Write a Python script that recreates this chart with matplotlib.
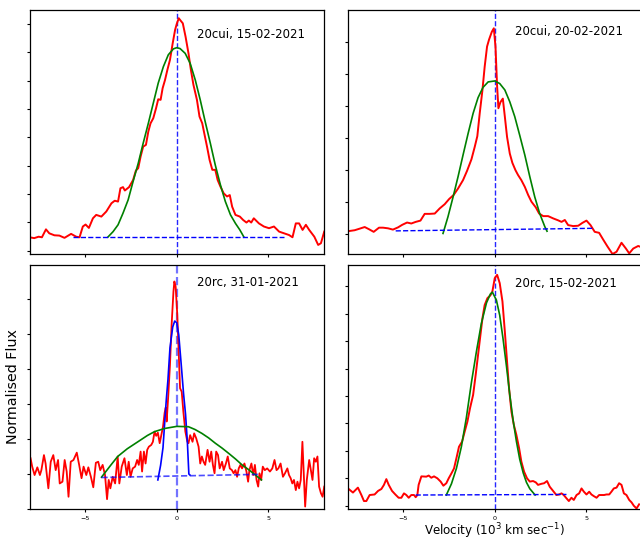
import numpy as np
import matplotlib.pyplot as plt

# ---- panel 1 : 20cui, 15-02-2021 ----
p1_vel = [-8.03, -7.77, -7.53, -7.35, -7.13, -6.95, -6.67, -6.40, -6.12, -5.76, -5.48, -5.30,
          -5.12, -4.97, -4.79, -4.57, -4.39, -4.11, -3.84, -3.56, -3.38, -3.20, -3.07, -2.93,
          -2.83, -2.60, -2.38, -2.23, -2.10, -1.97, -1.83, -1.68, -1.55, -1.43, -1.28, -1.13,
          -1.01, -0.88, -0.77, -0.64, -0.51, -0.37, -0.22, -0.09, 0.0, 0.11, 0.18, 0.33, 0.48,
          0.64, 0.77, 0.91, 1.10, 1.24, 1.39, 1.50, 1.65, 1.79, 1.94, 2.10, 2.23, 2.38, 2.56,
          2.74, 2.89, 3.02, 3.20, 3.44, 3.62, 3.80, 3.93, 4.06, 4.20, 4.48, 4.75, 5.03, 5.30,
          5.58, 5.85, 6.12, 6.31, 6.49, 6.67, 6.86, 7.04, 7.22, 7.50, 7.71, 7.86, 8.04]
p1_flux = [0.47, 0.44, 0.49, 0.47, 0.75, 0.61, 0.54, 0.53, 0.45, 0.59, 0.49, 0.47, 0.85, 0.92,
           0.80, 1.14, 1.26, 1.20, 1.38, 1.67, 1.76, 1.73, 2.20, 2.24, 2.12, 2.24, 2.49, 2.82,
           2.91, 3.32, 3.67, 3.73, 4.20, 4.49, 4.67, 5.02, 5.34, 5.32, 5.73, 6.02, 6.38, 6.73,
           7.32, 7.79, 8.00, 8.20, 8.14, 8.02, 7.55, 6.96, 6.38, 5.85, 5.32, 4.73, 4.49, 4.14,
           3.67, 3.20, 2.85, 2.85, 2.49, 2.26, 2.02, 1.91, 1.96, 1.55, 1.26, 1.20, 1.08, 0.99,
           1.06, 0.99, 1.14, 0.96, 0.85, 0.79, 0.85, 0.67, 0.61, 0.55, 0.47, 0.96, 0.96, 0.73,
           0.91, 0.73, 0.49, 0.20, 0.26, 0.67]
p1_fit_vel = [-3.75, -3.47, -3.20, -2.93, -2.65, -2.38, -2.10, -1.83, -1.55, -1.28, -1.01,
              -0.73, -0.46, -0.18, 0.0, 0.18, 0.46, 0.73, 1.01, 1.28, 1.55, 1.83, 2.10, 2.38,
              2.65, 2.93, 3.20, 3.44, 3.66]
p1_fit_flux = [0.48, 0.67, 0.91, 1.32, 1.79, 2.44, 3.08, 3.79, 4.49, 5.20, 5.91, 6.49, 6.91,
               7.12, 7.16, 7.13, 6.96, 6.61, 6.02, 5.32, 4.55, 3.79, 3.02, 2.32, 1.73, 1.26,
               0.96, 0.73, 0.48]
p1_base_vel = [-5.67, 5.85]
p1_base_flux = [0.48, 0.48]

# ---- panel 2 : 20cui, 20-02-2021 ----
p2_vel = [-8.00, -7.64, -7.36, -7.09, -6.85, -6.60, -6.31, -6.09, -5.82, -5.55, -5.27, -5.04,
          -4.78, -4.55, -4.31, -4.05, -3.82, -3.55, -3.27, -3.00, -2.73, -2.49, -2.24, -2.00,
          -1.73, -1.51, -1.27, -1.09, -0.95, -0.82, -0.67, -0.55, -0.42, -0.31, -0.16, -0.05,
          0.04, 0.13, 0.20, 0.31, 0.44, 0.55, 0.67, 0.82, 0.96, 1.13, 1.27, 1.45, 1.64, 1.82,
          2.00, 2.24, 2.42, 2.64, 2.91, 3.18, 3.45, 3.64, 3.82, 4.00, 4.27, 4.55, 4.78, 5.00,
          5.22, 5.45, 5.69, 5.91, 6.15, 6.42, 6.64, 6.91, 7.15, 7.33, 7.55, 7.82, 7.91]
p2_flux = [0.10, 0.13, 0.18, 0.23, 0.16, 0.08, 0.21, 0.21, 0.19, 0.15, 0.22, 0.30, 0.37, 0.34,
           0.39, 0.43, 0.64, 0.64, 0.65, 0.81, 0.94, 1.10, 1.23, 1.43, 1.69, 1.98, 2.34, 2.73,
           3.06, 3.77, 4.50, 5.22, 5.85, 6.07, 6.31, 6.42, 5.85, 4.60, 3.93, 4.12, 4.23, 3.67,
           3.04, 2.52, 2.23, 2.00, 1.85, 1.69, 1.48, 1.23, 1.02, 0.84, 0.65, 0.57, 0.57, 0.50,
           0.44, 0.39, 0.45, 0.29, 0.26, 0.27, 0.36, 0.43, 0.29, 0.08, 0.05, -0.16, -0.38,
           -0.61, -0.54, -0.26, -0.44, -0.59, -0.44, -0.36, -0.38]
p2_fit_vel = [-2.82, -2.55, -2.27, -2.00, -1.73, -1.45, -1.18, -0.91, -0.64, -0.36, 0.0, 0.27,
              0.55, 0.82, 1.09, 1.36, 1.64, 1.91, 2.18, 2.45, 2.73, 2.85]
p2_fit_flux = [0.03, 0.55, 1.17, 1.80, 2.47, 3.15, 3.77, 4.26, 4.58, 4.75, 4.78, 4.70, 4.50,
               4.13, 3.67, 3.09, 2.47, 1.80, 1.17, 0.65, 0.24, 0.10]
p2_base_vel = [-5.40, 5.36]
p2_base_flux = [0.11, 0.19]

# ---- panel 3 : 20rc, 31-01-2021 ----
p3_vel = [-7.97, -7.88, -7.75, -7.60, -7.46, -7.38, -7.24, -7.15, -7.00, -6.87, -6.73, -6.60,
          -6.47, -6.38, -6.23, -6.11, -6.00, -5.90, -5.78, -5.63, -5.45, -5.32, -5.19, -5.08,
          -4.93, -4.82, -4.68, -4.55, -4.41, -4.28, -4.17, -4.04, -3.91, -3.80, -3.71, -3.62,
          -3.49, -3.36, -3.22, -3.13, -3.00, -2.85, -2.72, -2.62, -2.52, -2.40, -2.27, -2.16,
          -2.07, -1.97, -1.89, -1.79, -1.70, -1.61, -1.52, -1.39, -1.30, -1.21, -1.12, -1.03,
          -0.93, -0.84, -0.75, -0.66, -0.60, -0.55, -0.46, -0.37, -0.28, -0.18, -0.13, -0.06,
          0.03, 0.11, 0.18, 0.27, 0.36, 0.47, 0.58, 0.64, 0.73, 0.86, 0.95, 1.06, 1.19, 1.28,
          1.37, 1.46, 1.55, 1.68, 1.79, 1.88, 1.97, 2.06, 2.15, 2.25, 2.34, 2.47, 2.56, 2.68,
          2.78, 2.89, 3.01, 3.10, 3.20, 3.29, 3.38, 3.47, 3.56, 3.69, 3.80, 3.89, 3.96, 4.07,
          4.17, 4.26, 4.35, 4.44, 4.51, 4.60, 4.69, 4.80, 4.93, 5.08, 5.21, 5.33, 5.44, 5.54,
          5.66, 5.79, 5.90, 6.03, 6.12, 6.21, 6.30, 6.39, 6.49, 6.58, 6.67, 6.76, 6.85, 6.94,
          7.00, 7.09, 7.22, 7.31, 7.40, 7.49, 7.58, 7.67, 7.76, 7.86, 7.95, 8.04]
p3_flux = [1.45, 1.21, 0.97, 1.19, 0.97, 1.11, 1.54, 1.30, 0.59, 1.35, 1.54, 1.11, 1.40, 0.73,
           0.78, 1.40, 1.07, 0.35, 1.35, 1.40, 1.61, 1.26, 0.88, 1.21, 0.97, 1.19, 0.92, 0.62,
           1.32, 1.35, 1.11, 1.26, 0.97, 0.28, 0.83, 0.59, 0.92, 0.73, 1.50, 0.73, 1.21, 1.45,
           0.97, 1.35, 0.92, 1.16, 1.21, 1.40, 1.26, 1.64, 1.07, 1.64, 1.30, 1.69, 1.78, 1.83,
           1.92, 2.21, 2.09, 2.18, 1.88, 2.11, 2.35, 2.75, 2.90, 2.50, 3.26, 4.11, 5.26, 6.21,
           6.50, 6.35, 5.54, 4.40, 3.45, 3.35, 2.78, 2.21, 1.92, 1.88, 2.11, 1.92, 2.16, 2.02,
           1.78, 1.30, 1.50, 1.35, 1.26, 1.69, 1.35, 1.64, 1.26, 1.02, 1.64, 1.54, 1.16, 1.35,
           1.11, 1.30, 1.50, 1.16, 1.11, 1.02, 1.11, 0.92, 1.16, 1.26, 1.16, 1.30, 1.07, 0.78,
           1.11, 1.30, 0.97, 1.26, 0.83, 0.64, 1.02, 0.83, 1.21, 1.11, 1.16, 1.07, 1.16, 1.40,
           1.11, 1.16, 1.30, 0.92, 1.02, 1.16, 0.97, 0.88, 0.73, 0.83, 0.54, 0.78, 0.59, 0.83,
           1.92, 0.83, 0.07, 0.83, 1.40, 1.11, 0.83, 1.45, 1.35, 1.50, 0.64, 0.45, 0.35, 0.64]
p3_narrow_vel = [-1.03, -0.88, -0.75, -0.66, -0.57, -0.48, -0.37, -0.22, -0.11, 0.0, 0.11,
                 0.24, 0.37, 0.48, 0.58, 0.66, 0.72]
p3_narrow_flux = [0.83, 1.25, 1.75, 2.45, 3.12, 3.69, 4.60, 5.20, 5.37, 5.32, 4.97, 4.15,
                  3.30, 2.70, 1.90, 1.00, 0.97]
p3_broad_vel = [-4.10, -3.60, -3.22, -2.70, -2.12, -1.60, -1.21, -0.66, 0.0, 0.64, 1.00, 1.37,
                1.74, 2.10, 2.47, 2.83, 3.20, 3.56, 3.93, 4.29, 4.62]
p3_broad_flux = [0.91, 1.25, 1.50, 1.72, 1.92, 2.10, 2.21, 2.30, 2.36, 2.35, 2.27, 2.16, 2.03,
                 1.88, 1.74, 1.59, 1.43, 1.26, 1.12, 0.97, 0.83]
p3_base_vel = [-4.10, 4.50]
p3_base_flux = [0.90, 0.99]

# ---- panel 4 : 20rc, 15-02-2021 ----
p4_vel = [-8.00, -7.73, -7.46, -7.27, -7.13, -7.00, -6.82, -6.55, -6.36, -6.18, -6.04, -5.91,
          -5.78, -5.60, -5.42, -5.24, -5.09, -4.95, -4.82, -4.69, -4.55, -4.40, -4.31, -4.22,
          -4.15, -4.00, -3.73, -3.60, -3.46, -3.31, -3.13, -2.95, -2.80, -2.64, -2.51, -2.36,
          -2.22, -2.07, -1.95, -1.78, -1.64, -1.49, -1.35, -1.18, -1.04, -0.91, -0.78, -0.67,
          -0.55, -0.40, -0.24, -0.13, 0.0, 0.13, 0.27, 0.42, 0.55, 0.67, 0.78, 0.91, 1.04,
          1.18, 1.33, 1.45, 1.60, 1.76, 1.91, 2.09, 2.24, 2.36, 2.55, 2.69, 2.85, 3.00, 3.18,
          3.36, 3.51, 3.64, 3.76, 3.91, 4.04, 4.18, 4.31, 4.46, 4.60, 4.73, 4.86, 5.00, 5.15,
          5.27, 5.40, 5.55, 5.69, 5.82, 5.96, 6.09, 6.24, 6.36, 6.49, 6.64, 6.78, 6.91, 7.04,
          7.18, 7.33, 7.46, 7.58, 7.73, 7.87]
p4_flux = [0.63, 0.48, 0.66, 0.39, 0.17, 0.17, 0.39, 0.41, 0.54, 0.61, 0.76, 0.97, 0.76, 0.54,
           0.41, 0.29, 0.29, 0.45, 0.39, 0.29, 0.39, 0.39, 0.31, 0.39, 0.76, 1.07, 1.06, 1.10,
           1.02, 1.07, 1.00, 0.88, 0.73, 0.82, 1.00, 1.18, 1.36, 1.79, 2.15, 2.34, 2.70, 3.07,
           3.55, 4.04, 4.77, 5.50, 6.23, 6.84, 7.32, 7.57, 7.67, 7.81, 8.30, 8.42, 8.12, 7.45,
           6.35, 5.26, 4.28, 3.43, 2.95, 2.58, 2.09, 1.61, 1.24, 1.00, 0.88, 0.90, 0.85, 0.76,
           0.80, 0.82, 0.90, 0.69, 0.54, 0.39, 0.41, 0.45, 0.39, 0.27, 0.17, 0.29, 0.21, 0.39,
           0.45, 0.63, 0.51, 0.41, 0.51, 0.41, 0.35, 0.29, 0.39, 0.39, 0.39, 0.41, 0.41, 0.51,
           0.63, 0.66, 0.82, 0.76, 0.45, 0.39, 0.21, 0.12, 0.00, -0.10, 0.05]
p4_fit_vel = [-2.64, -2.36, -2.09, -1.82, -1.55, -1.27, -1.00, -0.73, -0.45, -0.24, -0.13,
              0.09, 0.27, 0.45, 0.64, 0.82, 1.00, 1.18, 1.36, 1.55, 1.73, 1.91, 2.20]
p4_fit_flux = [0.39, 0.80, 1.36, 2.15, 3.20, 4.50, 5.62, 6.65, 7.40, 7.72, 7.79, 7.50, 6.95,
               6.10, 5.08, 4.04, 3.12, 2.35, 1.70, 1.20, 0.85, 0.62, 0.39]
p4_base_vel = [-4.31, 3.91]
p4_base_flux = [0.39, 0.41]

labels = ["20cui, 15-02-2021", "20cui, 20-02-2021", "20rc, 31-01-2021", "20rc, 15-02-2021"]

W, H = 640, 541
fig = plt.figure(figsize=(W / 100, H / 100), dpi=100)

def make_ax(left, top, ylim, nticks, vline_alpha=0.85, vline_lw=1):
    ax = fig.add_axes([left / W, (H - top - 244) / H, 293.5 / W, 244 / H])
    ax.set_xlim(-8, 8)
    ax.set_ylim(*ylim)
    ax.set_xticks([-5, 0, 5])
    ax.set_yticks(range(nticks))
    ax.set_yticklabels([])
    ax.tick_params(length=2.2, width=0.8, labelsize=4.6, pad=2.5)
    for s in ax.spines.values():
        s.set_linewidth(0.9)
    ax.axvline(0, color="blue", ls="--", lw=vline_lw, alpha=vline_alpha)
    return ax

ax1 = make_ax(30, 10, (-0.12, 8.49), 9)
ax2 = make_ax(348, 10, (-0.61, 6.99), 7)
ax3 = make_ax(30, 265, (0, 6.97), 7, vline_alpha=0.55, vline_lw=1.6)
ax4 = make_ax(348, 265, (-0.12, 8.78), 9)

ax1.plot(p1_vel, p1_flux, color="red", lw=1.4)
ax1.plot(p1_fit_vel, p1_fit_flux, color="green", lw=1.2)
ax1.plot(p1_base_vel, p1_base_flux, color="blue", ls="--", lw=1)

ax2.plot(p2_vel, p2_flux, color="red", lw=1.4)
ax2.plot(p2_fit_vel, p2_fit_flux, color="green", lw=1.2)
ax2.plot(p2_base_vel, p2_base_flux, color="blue", ls="--", lw=1)

ax3.plot(p3_vel, p3_flux, color="red", lw=1.3)
ax3.plot(p3_narrow_vel, p3_narrow_flux, color="blue", lw=1.2)
ax3.plot(p3_broad_vel, p3_broad_flux, color="green", lw=1.2)
ax3.plot(p3_base_vel, p3_base_flux, color="blue", ls="--", lw=1.2, alpha=0.7)

ax4.plot(p4_vel, p4_flux, color="red", lw=1.4)
ax4.plot(p4_fit_vel, p4_fit_flux, color="green", lw=1.2)
ax4.plot(p4_base_vel, p4_base_flux, color="blue", ls="--", lw=1)

for ax in (ax1, ax2):
    ax.set_xticklabels([])

for ax, lab, ty in zip((ax1, ax2, ax3, ax4), labels, (0.90, 0.91, 0.93, 0.925)):
    ax.text(0.57, ty, lab, transform=ax.transAxes, fontsize=8.5, va="center", ha="left")

ax3.set_ylabel("Normalised Flux", fontsize=10.3)
ax3.yaxis.set_label_coords(-0.034, 0.5)
ax4.set_xlabel("Velocity (10$^3$ km sec$^{-1}$)", fontsize=8.6, va="center")
ax4.xaxis.set_label_coords(0.5, -0.093)

fig.savefig("out.png", dpi=100)
